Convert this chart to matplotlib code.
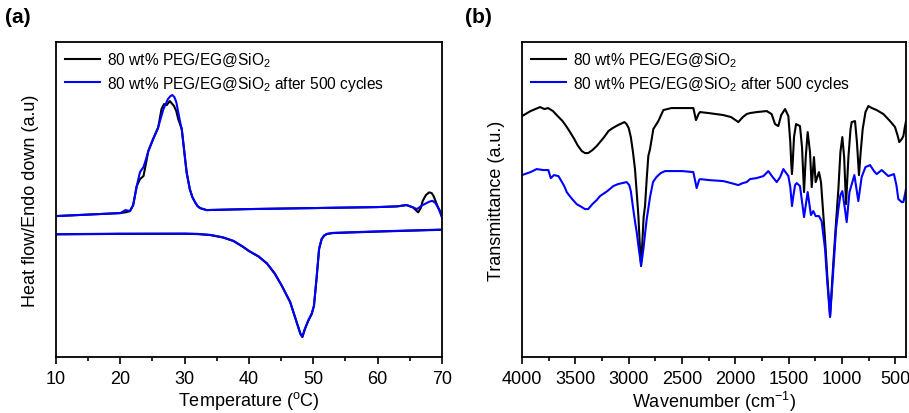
import matplotlib
matplotlib.use("Agg")
import matplotlib.pyplot as plt
from matplotlib.ticker import MultipleLocator

plt.rcParams["font.family"] = ["Liberation Sans", "DejaVu Sans"]
plt.rcParams["mathtext.fontset"] = "custom"
plt.rcParams["mathtext.rm"] = "Liberation Sans"
plt.rcParams["mathtext.it"] = "Liberation Sans:italic"
plt.rcParams["mathtext.default"] = "regular"

# ---- (a) DSC, heights in arbitrary units ----
# cooling curve (exothermic peak up)
t_cool_black = [10, 15, 20, 21, 21.5, 22.0, 22.55, 23.06, 23.6, 24.0, 24.35, 25.1, 25.9, 26.4, 26.8, 27.2,
                27.7, 28.35, 28.7, 29.0, 29.55, 29.9, 30.3, 30.8, 31.2, 31.6, 32.0, 32.4, 33.4, 40, 50, 60, 63,
                64.5, 65.5, 66.3, 66.7, 67, 67.5, 68, 68.4, 68.7, 69.3, 69.7, 70]
h_cool_black = [141, 142.5, 144, 145, 146, 152, 171, 178, 181, 194, 206, 218, 230, 248, 253, 252,
                256, 251, 246, 238, 228, 208, 185, 168, 160, 155, 151, 149, 147, 148, 149, 150, 150.7,
                152, 149.7, 144.7, 149, 156, 162, 164.7, 164, 161, 151, 146, 140]
t_cool_blue = [10, 15, 20, 20.8, 21.5, 22.0, 22.55, 23.06, 23.6, 24.0, 24.35, 25.1, 25.8, 26.7, 27.4,
               27.8, 28.1, 28.4, 28.7, 29.3, 29.55, 29.9, 30.3, 30.8, 31.2, 31.6, 32.0, 32.4, 33.4, 40, 50, 60, 63,
               64.5, 65.5, 66.1, 67, 68, 68.5, 69.0, 69.5, 70]
h_cool_blue = [141, 142.5, 144, 147, 146, 152, 171, 185, 190, 198, 206, 218, 228, 248, 258,
               261, 262, 260, 255, 235, 228, 208, 185, 168, 160, 155, 151, 149, 147, 148, 149, 150, 150.7,
               152, 149.7, 148, 152, 155.3, 156.3, 154, 148, 140]
# heating curve (endothermic dip down)
t_heat = [10, 20, 30, 32, 34, 36, 37.6, 39, 40, 41.5, 42.8, 44, 45.1, 46.4, 47.4, 48.0, 48.3, 48.7, 49.2,
          49.75, 50.1, 50.5, 50.9, 51.3, 51.7, 52.1, 53, 60, 70]
h_heat_black = [122.7, 123.2, 123.3, 123, 122, 119.5, 116, 110.5, 106, 100.5, 93.5, 83.5, 71.3, 55, 35, 23, 20, 28, 36,
                43, 51, 78, 108, 118, 121.5, 123, 124, 125.5, 127.3]
h_heat_blue = [122.9, 123.4, 123.5, 123.2, 122.2, 119.7, 116.2, 110.7, 106.2, 100.7, 93.7, 83.7, 71.5, 55.2, 35.3, 23.5,
               20.5, 28.5, 36.5, 43.5, 51.5, 78.5, 108.5, 118.2, 121.7, 123.2, 124.2, 125.7, 127.5]

# ---- (b) FTIR, heights in arbitrary units ----
wn_black = [4000, 3920, 3831, 3790, 3756, 3710, 3675, 3620, 3580, 3550, 3510, 3480, 3440, 3410, 3380,
            3340, 3300, 3269, 3230, 3190, 3150, 3100, 3060, 3040, 3020, 3000, 2980, 2960, 2941, 2925,
            2909, 2895, 2884, 2872, 2860, 2847, 2830, 2816, 2800, 2769, 2722, 2675,
            2600, 2519, 2450, 2394, 2369, 2345, 2331, 2250, 2113, 2040, 1972, 1930, 1894, 1862,
            1800, 1706, 1660, 1628, 1597, 1570, 1534, 1503, 1485, 1475, 1469, 1462, 1450, 1431, 1394, 1375,
            1356, 1340, 1322, 1300, 1284, 1263, 1247, 1216, 1197, 1159, 1138, 1112, 1081, 1056,
            1034, 1015, 997, 980, 962, 940, 920, 909, 878, 860, 841, 825, 806, 780, 753, 720, 675, 612,
            550, 503, 480, 463, 440, 425, 409, 400]
tr_black = [241, 246, 250, 248, 249, 246, 242, 236, 230, 225, 218, 212, 206, 204, 204,
            207, 211, 215, 220, 226, 229, 232, 234, 235, 233, 229, 220, 205, 188, 165,
            141, 110, 91, 115, 140, 151, 180, 201, 208, 228, 236, 247,
            249, 249, 249, 249, 237, 243, 245, 244, 242, 240, 235, 240, 243, 244,
            245, 246, 243, 233, 231, 242, 248, 241, 215, 192, 183, 195, 220, 233, 231, 210,
            165, 200, 225, 205, 170, 200, 175, 185, 175, 118, 81, 41, 95, 135,
            168, 205, 220, 200, 153, 200, 228, 235, 236, 215, 182, 205, 228, 245, 251, 249, 247, 243,
            236, 230, 222, 215, 218, 221, 231, 236]
wn_blue = [4000, 3920, 3863, 3800, 3753, 3731, 3700, 3659, 3620, 3600, 3581, 3560, 3530, 3488, 3440,
           3410, 3380, 3340, 3300, 3269, 3200, 3144, 3100, 3060, 3019, 2995, 2980, 2960, 2940, 2925,
           2905, 2884, 2872, 2860, 2845, 2831, 2800, 2772,
           2740, 2700, 2659, 2500, 2394, 2363, 2340, 2331, 2250, 2113, 2040, 1972, 1930, 1894,
           1862, 1800, 1737, 1691, 1650, 1612, 1580, 1550, 1503, 1485, 1469, 1455, 1440, 1425, 1394, 1356,
           1322, 1291, 1269, 1247, 1216, 1191, 1159, 1138, 1112, 1081, 1056, 1034, 1015, 997, 975,
           956, 930, 884, 847, 816, 780, 737, 700, 675, 628, 566, 513, 490, 472, 440, 425,
           409, 400]
tr_blue = [182, 185, 188, 187, 187, 179, 182, 181, 174, 170, 165, 162, 158, 153, 150,
           148, 148, 153, 157, 161, 166, 171, 173, 174, 175, 172, 166, 150, 135, 125,
           108, 92, 100, 110, 125, 138, 160, 175,
           180, 184, 186, 186, 185, 169, 177, 178, 177, 176, 174, 172, 174, 175,
           178, 179, 181, 186, 180, 175, 180, 188, 181, 170, 151, 162, 172, 174, 171, 140,
           165, 142, 146, 141, 141, 136, 108, 75, 40, 88, 128, 148, 162, 166, 150,
           135, 165, 182, 156, 180, 190, 192, 186, 183, 187, 181, 183, 172, 158, 155, 155,
           163, 168]

labels = ["80 wt% PEG/EG@SiO$_2$", "80 wt% PEG/EG@SiO$_2$ after 500 cycles"]
BLUE = "#0000FF"

fig = plt.figure(figsize=(9.09, 4.14), dpi=100)
ax1 = fig.add_axes([0.0616, 0.135, 0.4246, 0.761])
ax2 = fig.add_axes([0.5743, 0.135, 0.4224, 0.761])

ax1.plot(t_cool_black, h_cool_black, color="black", lw=1.5)
ax1.plot(t_heat, h_heat_black, color="black", lw=1.5, label=labels[0])
ax1.plot(t_cool_blue, h_cool_blue, color=BLUE, lw=1.5)
ax1.plot(t_heat, h_heat_blue, color=BLUE, lw=1.5, label=labels[1])
ax1.set_xlim(10, 70)
ax1.set_ylim(0, 315)
ax1.xaxis.set_major_locator(MultipleLocator(10))
ax1.xaxis.set_minor_locator(MultipleLocator(5))
ax1.set_xlabel("Temperature ($^{o}$C)", fontsize=13, labelpad=2)
ax1.set_ylabel("Heat flow/Endo down (a.u)", fontsize=13, labelpad=12)

ax2.plot(wn_black, tr_black, color="black", lw=1.5, label=labels[0])
ax2.plot(wn_blue, tr_blue, color=BLUE, lw=1.5, label=labels[1])
ax2.set_xlim(4000, 400)
ax2.set_ylim(0, 315)
ax2.xaxis.set_major_locator(MultipleLocator(500))
ax2.xaxis.set_minor_locator(MultipleLocator(250))
ax2.set_xlabel("Wavenumber (cm$^{-1}$)", fontsize=13, labelpad=2)
ax2.set_ylabel("Transmittance (a.u.)", fontsize=13, labelpad=12)

for ax in (ax1, ax2):
    ax.set_yticks([])
    ax.tick_params(axis="x", which="major", direction="out", length=5, width=1.2,
                   labelsize=13, pad=4)
    ax.tick_params(axis="x", which="minor", direction="out", length=3, width=1.2)
    for s in ax.spines.values():
        s.set_linewidth(1.3)
    ax.legend(loc="upper left", frameon=False, fontsize=11.2, handlelength=2.25,
              handletextpad=0.45, labelspacing=0.3, borderaxespad=0.15,
              bbox_to_anchor=(0.0, 1.0))

fig.text(0.005, 0.945, "(a)", fontsize=15, fontweight="bold")
fig.text(0.512, 0.945, "(b)", fontsize=15, fontweight="bold")

fig.savefig("out.png", dpi=100)
